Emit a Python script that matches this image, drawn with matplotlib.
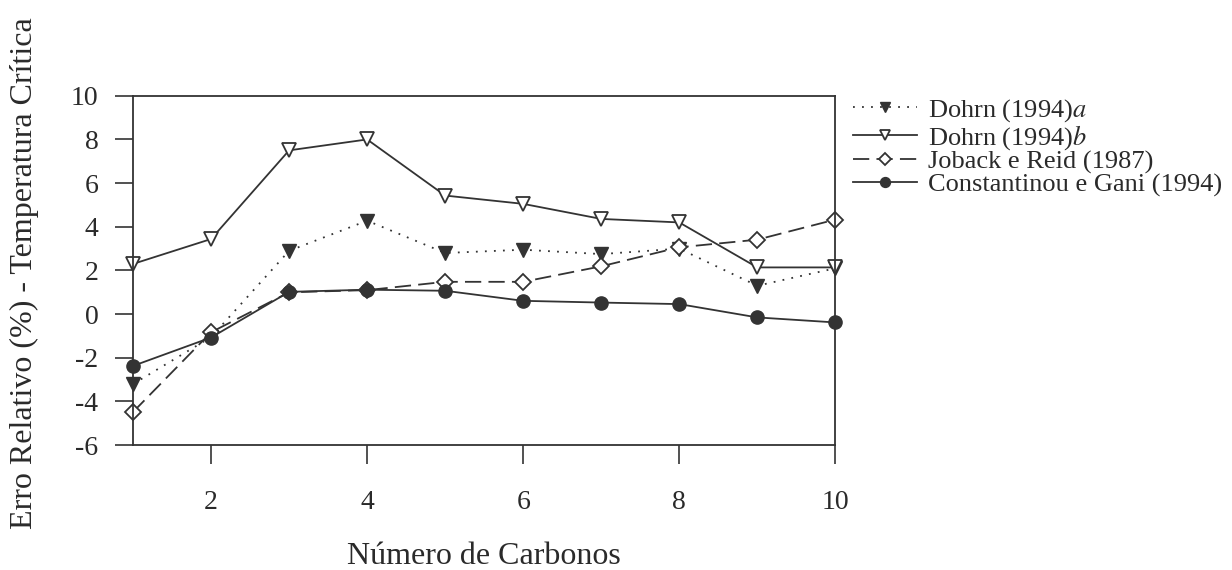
import matplotlib
matplotlib.use("Agg")
import matplotlib.pyplot as plt

plt.rcParams['font.family'] = ['Liberation Serif', 'DejaVu Serif']
plt.rcParams['mathtext.fontset'] = 'stix'
plt.rcParams['axes.unicode_minus'] = False

carbonos = [1, 2, 3, 4, 5, 6, 7, 8, 9, 10]
dohrn_a = [-3.2, -1.05, 2.9, 4.28, 2.8, 2.95, 2.75, 3.0, 1.3, 2.1]
dohrn_b = [2.3, 3.44, 7.5, 8.0, 5.43, 5.05, 4.36, 4.2, 2.14, 2.14]
joback = [-4.48, -0.83, 1.0, 1.1, 1.48, 1.48, 2.19, 3.06, 3.41, 4.33]
constantinou = [-2.37, -1.07, 1.02, 1.12, 1.07, 0.61, 0.53, 0.46, -0.15, -0.38]

labels = ['Dohrn (1994)$a$', 'Dohrn (1994)$b$', 'Joback e Reid (1987)', 'Constantinou e Gani (1994)']

cor = '#333333'
txt = '#2a2a2a'
fig = plt.figure(figsize=(12.32, 5.7), dpi=100)
ax = fig.add_axes([0.108, 0.219, 0.570, 0.613])

# series
l1, = ax.plot(carbonos, dohrn_a, color=cor, lw=1.3, linestyle=(0, (1, 4)),
              marker='v', ms=10, mfc=cor, mec=cor, clip_on=False)
l2, = ax.plot(carbonos, dohrn_b, color=cor, lw=1.3, linestyle='-',
              marker='v', ms=10, mfc='white', mec=cor, mew=1.3, clip_on=False)
l3, = ax.plot(carbonos, joback, color=cor, lw=1.3, linestyle=(0, (9, 4)),
              marker='D', ms=8, mfc='white', mec=cor, mew=1.3, clip_on=False)
l4, = ax.plot(carbonos, constantinou, color=cor, lw=1.3, linestyle='-',
              marker='o', ms=9.5, mfc=cor, mec=cor, clip_on=False, zorder=3)

ax.set_xlim(1, 10)
ax.set_ylim(-6, 10)
ax.set_xticks([2, 4, 6, 8, 10])
ax.set_yticks(range(-6, 11, 2))
ax.tick_params(axis='both', direction='out', color=cor, width=1.2, labelsize=20, labelcolor=txt)
ax.tick_params(axis='y', length=13, pad=12)
ax.tick_params(axis='x', length=14, pad=18)
for s in ax.spines.values():
    s.set_color(cor)
    s.set_linewidth(1.3)

ax.set_xlabel('Número de Carbonos', fontsize=23, color=txt, labelpad=20)
fig.text(0.020, 0.521, 'Erro Relativo (%) - Temperatura Crítica', rotation=90,
         ha='center', va='center', fontsize=23, color=txt)

fig.legend([l1, l2, l3, l4], labels, loc='upper left', bbox_to_anchor=(0.6835, 0.848),
           frameon=False, fontsize=19, handlelength=2.45, handletextpad=0.42,
           labelspacing=-0.05, borderaxespad=0, markerscale=0.75, labelcolor=txt)

fig.savefig('out.png', dpi=100)
